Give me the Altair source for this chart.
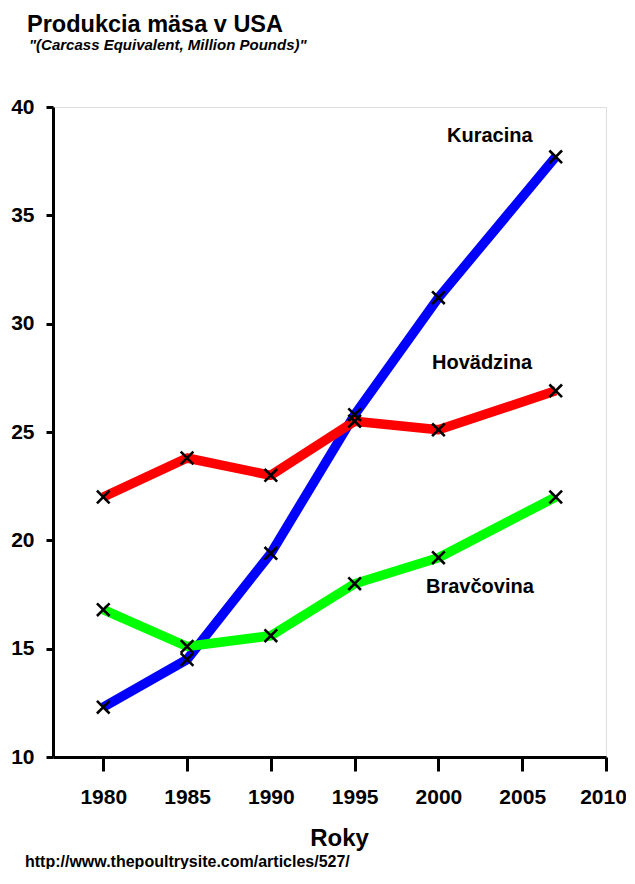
import altair as alt
import pandas as pd

years = [1980, 1985, 1990, 1995, 2000, 2007]
kuracina = [12.3, 14.5, 19.4, 25.8, 31.2, 37.7]
hovadzina = [22.0, 23.8, 23.0, 25.5, 25.1, 26.9]
bravcovina = [16.8, 15.1, 15.6, 18.0, 19.2, 22.0]
series_names = ["Kuracina", "Hovädzina", "Bravčovina"]
series_colors = ["#0000FF", "#FF0000", "#00FF00"]
x_ticks = [1980, 1985, 1990, 1995, 2000, 2005, 2010]
y_ticks = [10, 15, 20, 25, 30, 35, 40]

title_text = "Produkcia mäsa v USA"
subtitle_text = '"(Carcass Equivalent, Million Pounds)"'
source_text = "http://www.thepoultrysite.com/articles/527/"

rows = []
for name, vals in zip(series_names, [kuracina, hovadzina, bravcovina]):
    for yr, v in zip(years, vals):
        rows.append({"rok": yr, "hodnota": v, "druh": name})
df = pd.DataFrame(rows)

FONT = "Liberation Sans"

x_enc = alt.X(
    "rok:Q",
    scale=alt.Scale(domain=[1977, 2010], nice=False, zero=False),
    axis=alt.Axis(
        values=x_ticks, format="d", title="Roky", grid=False,
        domainColor="black", domainWidth=3, tickColor="black", tickWidth=3,
        tickSize=14, labelFont=FONT, labelFontSize=21, labelFontWeight="bold",
        labelColor="black", labelPadding=15, labelFlush=False,
        labelOffset={"condition": {"test": "datum.value == 2010", "value": -3}, "value": 0},
        titleFont=FONT, titleFontSize=24, titleFontWeight="bold", titleColor="black",
        titleX=286, titleY=88, titleBaseline="alphabetic", titleAnchor="middle",
    ),
)
y_enc = alt.Y(
    "hodnota:Q",
    scale=alt.Scale(domain=[10, 40], nice=False, zero=False),
    axis=alt.Axis(
        values=y_ticks, title=None, grid=False,
        domainColor="black", domainWidth=3, tickColor="black", tickWidth=3,
        tickSize=7, labelFont=FONT, labelFontSize=21, labelFontWeight="bold",
        labelColor="black", labelPadding=12, labelFlush=False,
    ),
)
color_enc = alt.Color(
    "druh:N",
    scale=alt.Scale(domain=series_names, range=series_colors),
    legend=None,
)

base = alt.Chart(df)
lines = []
for name in series_names:
    lines.append(
        base.transform_filter(alt.datum.druh == name)
        .mark_line(strokeWidth=9.5, strokeCap="butt", strokeJoin="round")
        .encode(x=x_enc, y=y_enc, color=color_enc)
    )

points = base.mark_point(
    shape="M-1,-1L1,1M-1,1L1,-1", filled=False, stroke="black",
    strokeWidth=2.6, size=160, opacity=1,
).encode(x=x_enc, y=y_enc)


def label(text, x, y, size, weight="bold", style="normal", font=FONT):
    return alt.Chart(pd.DataFrame({"t": [text]})).mark_text(
        align="left", baseline="alphabetic", font=font, fontSize=size,
        fontWeight=weight, fontStyle=style, color="black",
    ).encode(text="t:N", x=alt.value(x), y=alt.value(y))


texts = [
    label(title_text, -26, -75, 23.5),
    label(subtitle_text, -24, -57, 15, style="italic"),
    label(series_names[0], 394, 35, 20),
    label(series_names[1], 379, 262, 20),
    label(series_names[2], 373, 486, 20),
    label(source_text, -28, 760, 16),
]

chart = alt.layer(*lines, points, *texts).properties(
    width=553, height=650,
    autosize=alt.AutoSizeParams(type="none"),
    padding={"left": 45, "top": 99, "right": 20, "bottom": 112},
).configure_view(stroke=None, strokeWidth=0).configure(background="white")

chart.save("out.html", embed_options={"renderer": "svg", "actions": False})
